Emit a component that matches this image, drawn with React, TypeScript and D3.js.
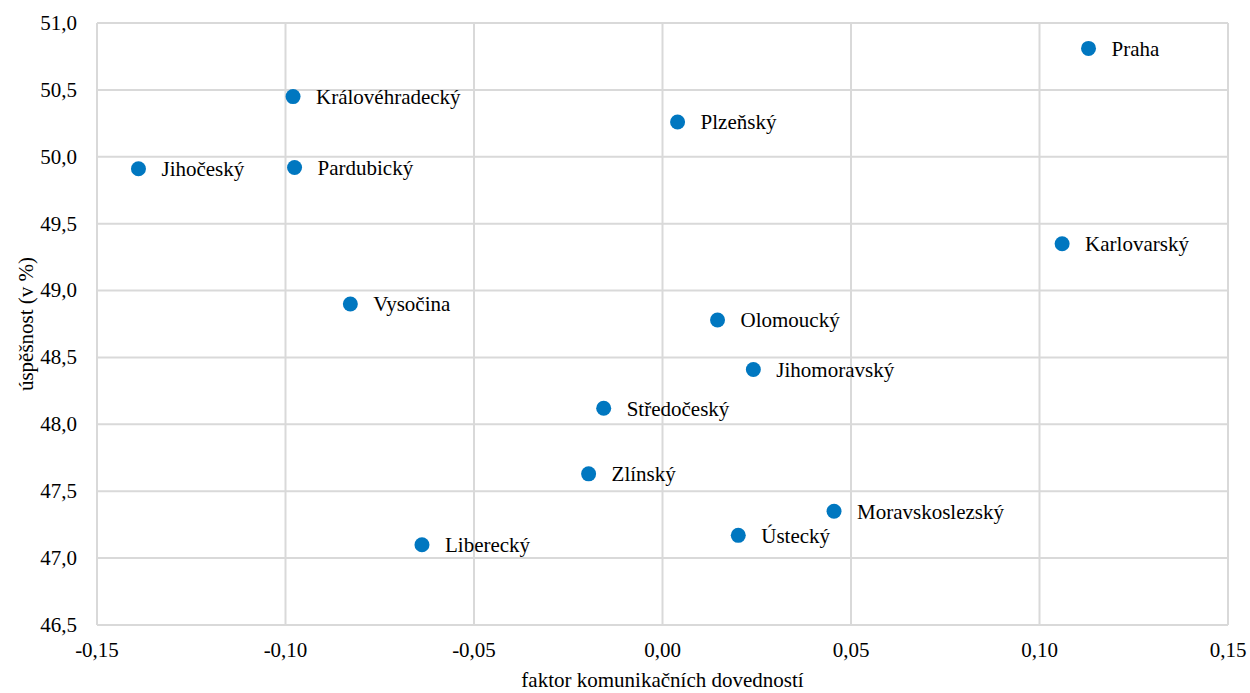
import React from 'react'
import * as d3 from 'd3'

const regions = ['Praha', 'Královéhradecký', 'Plzeňský', 'Jihočeský', 'Pardubický', 'Karlovarský', 'Vysočina', 'Olomoucký', 'Jihomoravský', 'Středočeský', 'Zlínský', 'Moravskoslezský', 'Ústecký', 'Liberecký']
const factor = [0.113, -0.098, 0.004, -0.139, -0.0976, 0.106, -0.0828, 0.0146, 0.0241, -0.0156, -0.0196, 0.0455, 0.0201, -0.0638]
const success = [50.81, 50.45, 50.26, 49.91, 49.92, 49.35, 48.9, 48.78, 48.41, 48.12, 47.63, 47.35, 47.17, 47.1]
const xTicks = [-0.15, -0.1, -0.05, 0, 0.05, 0.1, 0.15]
const yTicks = [46.5, 47, 47.5, 48, 48.5, 49, 49.5, 50, 50.5, 51]

const W = 1250
const H = 693
const left = 97
const right = 1228
const top = 23
const bottom = 625

const fmt = (d: number, p: number) => d.toFixed(p).replace('.', ',')

const App = () => {
  const x = d3.scaleLinear().domain([-0.15, 0.15]).range([left, right])
  const y = d3.scaleLinear().domain([46.5, 51]).range([bottom, top])

  return (
    <svg width={W} height={H} style={{ position: 'absolute', left: 0, top: 0, fontFamily: "'Liberation Serif', 'Times New Roman', serif" }}>
      <rect width={W} height={H} fill="#fff" />
      {xTicks.map(t => (
        <line key={'gx' + t} x1={x(t)} x2={x(t)} y1={top} y2={bottom} stroke="#d9d9d9" strokeWidth={2} />
      ))}
      {yTicks.map(t => (
        <line key={'gy' + t} x1={left} x2={right} y1={y(t)} y2={y(t)} stroke="#d9d9d9" strokeWidth={2} />
      ))}
      {yTicks.map(t => (
        <text key={'ty' + t} x={77} y={y(t)} dy="0.33em" textAnchor="end" fontSize={21} fill="#000">{fmt(t, 1)}</text>
      ))}
      {xTicks.map(t => (
        <text key={'tx' + t} x={x(t)} y={657} textAnchor="middle" fontSize={21} fill="#000">{fmt(t, 2)}</text>
      ))}
      <text x={(left + right) / 2} y={687} textAnchor="middle" fontSize={21} fill="#000">faktor komunikačních dovedností</text>
      <text transform={`translate(26,${(top + bottom) / 2}) rotate(-90)`} dy="0.33em" textAnchor="middle" fontSize={21} fill="#000">úspěšnost (v %)</text>
      {regions.map((r, i) => (
        <g key={r}>
          <circle cx={x(factor[i])} cy={y(success[i])} r={7.5} fill="#0077c0" />
          <text x={x(factor[i]) + 23} y={y(success[i])} dy="0.35em" fontSize={21} fill="#000">{r}</text>
        </g>
      ))}
    </svg>
  )
}

export default App
